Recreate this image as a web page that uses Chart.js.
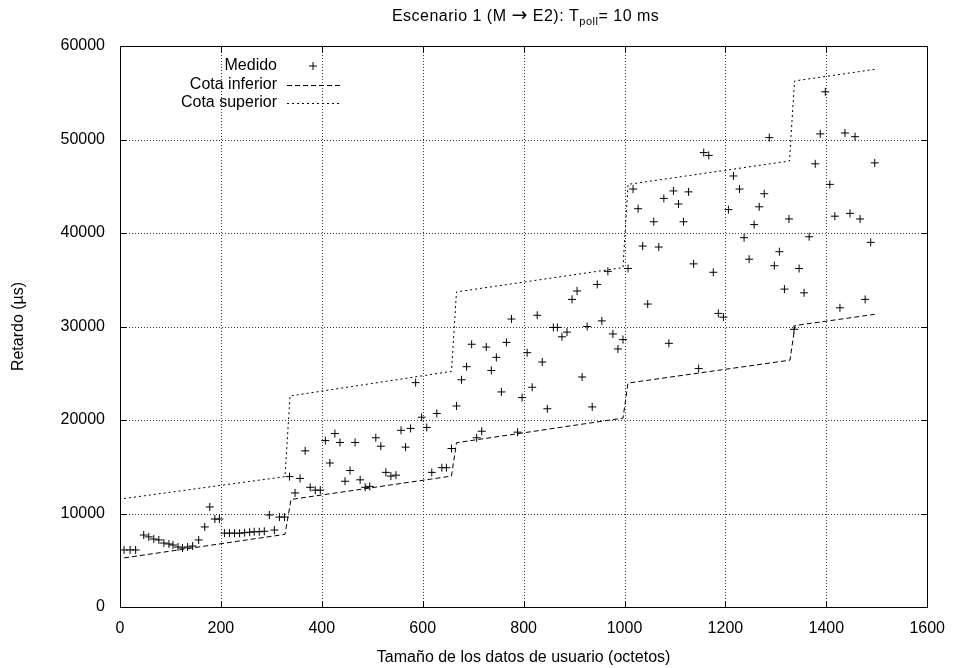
<!DOCTYPE html>
<html>
<head>
<meta charset="utf-8">
<script src="https://cdn.jsdelivr.net/npm/chart.js@4.4.1/dist/chart.umd.min.js"></script>
<style>
html,body{margin:0;padding:0;background:#fff;}
canvas{display:block;}
</style>
</head>
<body>
<canvas id="c" width="957" height="668"></canvas>
<script>
// ---- data ----
const measX = [8,20,31,47,57,67,77,87,97,105,115,124,134,144,156,168,178,188,197,207,217,227,237,247,257,266,276,286,296,306,316,326,336,347,357,367,377,387,397,407,416,426,436,446,456,466,476,486,495,507,517,527,537,547,557,566,576,586,598,608,618,628,638,647,657,667,677,687,697,707,717,726,736,746,756,766,776,788,797,807,817,827,837,847,859,867,876,886,896,906,916,926,936,946,955,967,977,987,997,1007,1017,1027,1036,1046,1058,1068,1078,1088,1097,1107,1117,1127,1137,1147,1157,1167,1176,1186,1196,1206,1216,1228,1237,1247,1257,1267,1277,1287,1297,1307,1317,1326,1336,1346,1356,1366,1378,1388,1398,1407,1417,1427,1437,1447,1457,1467,1477,1488,1496];
const measY = [6100,6100,6100,7700,7500,7270,7170,6840,6740,6630,6420,6310,6420,6520,7170,8560,10700,9410,9410,7900,7900,7900,7880,7950,8000,8050,8050,8100,9840,8230,9620,9620,13950,12200,13750,16700,12800,12500,12500,17800,15400,18550,17600,13450,14600,17600,13600,12800,12900,18100,17200,14400,14000,14100,18900,17100,19100,24000,20300,19200,14400,20700,14900,14900,16950,21500,24300,25700,28100,18100,18800,27800,25300,26700,23000,28300,30800,18700,22400,27200,23500,31200,26200,21200,29900,29900,28900,29400,32900,33800,24600,30000,21400,34500,30600,35900,29200,27600,28600,36200,44700,42600,38600,32400,41200,38500,43700,28200,44500,43100,41200,44400,36700,25500,48600,48300,35800,31400,31000,42500,46100,44700,39500,37200,40900,42800,44200,50200,36500,38000,34000,41500,29700,36200,33600,39600,47400,50600,55100,45200,41800,32000,50700,42100,50300,41500,32900,39000,47500];
const lowerX = [8,327,339,657,667,997,1007,1328,1338,1496];
const lowerY = [5250,7770,11500,14000,17570,20200,23950,26400,30100,31300];
const upperX = [8,327,337,657,667,997,1007,1327,1337,1496];
const upperY = [11600,13940,22570,25200,33700,36300,45200,47700,56260,57500];
const xTicks = [0,200,400,600,800,1000,1200,1400,1600];
const yTicks = [0,10000,20000,30000,40000,50000,60000];
const seriesNames = ['Medido','Cota inferior','Cota superior'];
const titleParts = ['Escenario 1 (M ','\u2192',' E2): T','poll','= 10 ms'];
const xTitle = 'Tama\u00f1o de los datos de usuario (octetos)';
const yTitle = 'Retardo (\u00b5s)';

const FONT = '"Liberation Sans", Arial, Helvetica, sans-serif';
const FS = 16;
const zip = (xs, ys) => xs.map((x, i) => ({x, y: ys[i]}));

const LOWER_DASH = [5,3];
const UPPER_DASH = [2,3];

const decor = {
  id: 'decor',
  beforeDatasetsDraw(chart) {
    const {ctx, chartArea: a, scales: {x, y}} = chart;
    ctx.save();
    ctx.strokeStyle = 'rgba(0,0,0,0.8)';
    ctx.lineWidth = 1;
    ctx.setLineDash([1,2]);
    xTicks.forEach(v => {
      if (v === x.min || v === x.max) return;
      const px = Math.round(x.getPixelForValue(v)) + 0.5;
      ctx.beginPath(); ctx.moveTo(px, a.top); ctx.lineTo(px, a.bottom); ctx.stroke();
    });
    yTicks.forEach(v => {
      if (v === y.min || v === y.max) return;
      const py = Math.round(y.getPixelForValue(v)) + 0.5;
      ctx.beginPath(); ctx.moveTo(a.left, py); ctx.lineTo(a.right, py); ctx.stroke();
    });
    ctx.restore();
  },
  afterDraw(chart) {
    const {ctx, chartArea: a, scales: {x, y}} = chart;
    ctx.save();
    ctx.strokeStyle = '#000';
    ctx.lineWidth = 1;
    ctx.setLineDash([]);
    const L = Math.round(a.left) + 0.5, R = Math.round(a.right) + 0.5;
    const T = Math.round(a.top) + 0.5, B = Math.round(a.bottom) + 0.5;
    ctx.strokeRect(L, T, R - L, B - T);
    const tl = 6;
    ctx.beginPath();
    xTicks.forEach(v => {
      const px = Math.round(x.getPixelForValue(v)) + 0.5;
      ctx.moveTo(px, B); ctx.lineTo(px, B - tl);
      ctx.moveTo(px, T); ctx.lineTo(px, T + tl);
    });
    yTicks.forEach(v => {
      const py = Math.round(y.getPixelForValue(v)) + 0.5;
      ctx.moveTo(L, py); ctx.lineTo(L + tl, py);
      ctx.moveTo(R, py); ctx.lineTo(R - tl, py);
    });
    ctx.stroke();

    // legend
    ctx.fillStyle = '#000';
    ctx.font = FS + 'px ' + FONT;
    ctx.textAlign = 'right';
    ctx.textBaseline = 'middle';
    const tx = 277, rows = [66, 85, 103];
    const sx0 = 287, sx1 = 340;
    seriesNames.forEach((n, i) => ctx.fillText(n, tx, rows[i]));
    const cx = 313, cy = rows[0];
    ctx.beginPath();
    ctx.moveTo(cx - 4, cy); ctx.lineTo(cx + 4, cy);
    ctx.moveTo(cx, cy - 4); ctx.lineTo(cx, cy + 4);
    ctx.stroke();
    ctx.setLineDash(LOWER_DASH);
    ctx.beginPath(); ctx.moveTo(sx0, rows[1] + 0.5); ctx.lineTo(sx1, rows[1] + 0.5); ctx.stroke();
    ctx.setLineDash(UPPER_DASH);
    ctx.beginPath(); ctx.moveTo(sx0, rows[2] + 0.5); ctx.lineTo(sx1, rows[2] + 0.5); ctx.stroke();
    ctx.setLineDash([]);

    // title with subscript
    const fonts = [FS + 'px ' + FONT, '19px "DejaVu Sans", sans-serif', FS + 'px ' + FONT, '11px ' + FONT, FS + 'px ' + FONT];
    const dy = [0, 0, 0, 4, 0];
    ctx.textAlign = 'left';
    ctx.textBaseline = 'alphabetic';
    ctx.letterSpacing = '0.5px';
    const widths = titleParts.map((t, i) => { ctx.font = fonts[i]; return ctx.measureText(t).width; });
    const total = widths.reduce((s, w) => s + w, 0);
    let px = (a.left + a.right) / 2 - total / 2 + 2;
    const base = 21;
    titleParts.forEach((t, i) => { ctx.font = fonts[i]; ctx.fillText(t, px, base + dy[i]); px += widths[i]; });
    ctx.restore();
  }
};

new Chart(document.getElementById('c'), {
  type: 'scatter',
  data: {
    datasets: [
      {
        label: seriesNames[0],
        data: zip(measX, measY),
        showLine: false,
        pointStyle: 'cross',
        pointRadius: 4,
        pointBorderWidth: 1,
        borderColor: '#000',
        backgroundColor: '#000'
      },
      {
        label: seriesNames[1],
        data: zip(lowerX, lowerY),
        showLine: true,
        pointRadius: 0,
        borderColor: '#000',
        borderWidth: 1,
        borderDash: LOWER_DASH,
        tension: 0,
        fill: false
      },
      {
        label: seriesNames[2],
        data: zip(upperX, upperY),
        showLine: true,
        pointRadius: 0,
        borderColor: '#000',
        borderWidth: 1,
        borderDash: UPPER_DASH,
        tension: 0,
        fill: false
      }
    ]
  },
  options: {
    responsive: false,
    animation: false,
    devicePixelRatio: 1,
    layout: {padding: {top: 46, right: 27, bottom: 0, left: 0}},
    plugins: {legend: {display: false}, title: {display: false}, tooltip: {enabled: false}},
    scales: {
      x: {
        type: 'linear', min: 0, max: 1600,
        afterFit: s => { s.height = 61; },
        afterBuildTicks: s => { s.ticks = xTicks.map(v => ({value: v})); },
        grid: {display: false, drawTicks: false},
        border: {display: false},
        ticks: {color: '#000', font: {family: FONT, size: FS}, padding: 12, maxRotation: 0, autoSkip: false,
                callback: v => String(v)},
        title: {display: true, text: xTitle, color: '#000', font: {family: FONT, size: FS}, padding: {top: 0, bottom: 1}}
      },
      y: {
        type: 'linear', min: 0, max: 60000,
        afterFit: s => { s.width = 120; },
        afterBuildTicks: s => { s.ticks = yTicks.map(v => ({value: v})); },
        grid: {display: false, drawTicks: false},
        border: {display: false},
        ticks: {color: '#000', font: {family: FONT, size: FS}, padding: 15, autoSkip: false,
                callback: v => String(v)},
        title: {display: true, text: yTitle, color: '#000', font: {family: FONT, size: FS}, padding: {top: 9, bottom: 0}}
      }
    }
  },
  plugins: [decor]
});
</script>
</body>
</html>
